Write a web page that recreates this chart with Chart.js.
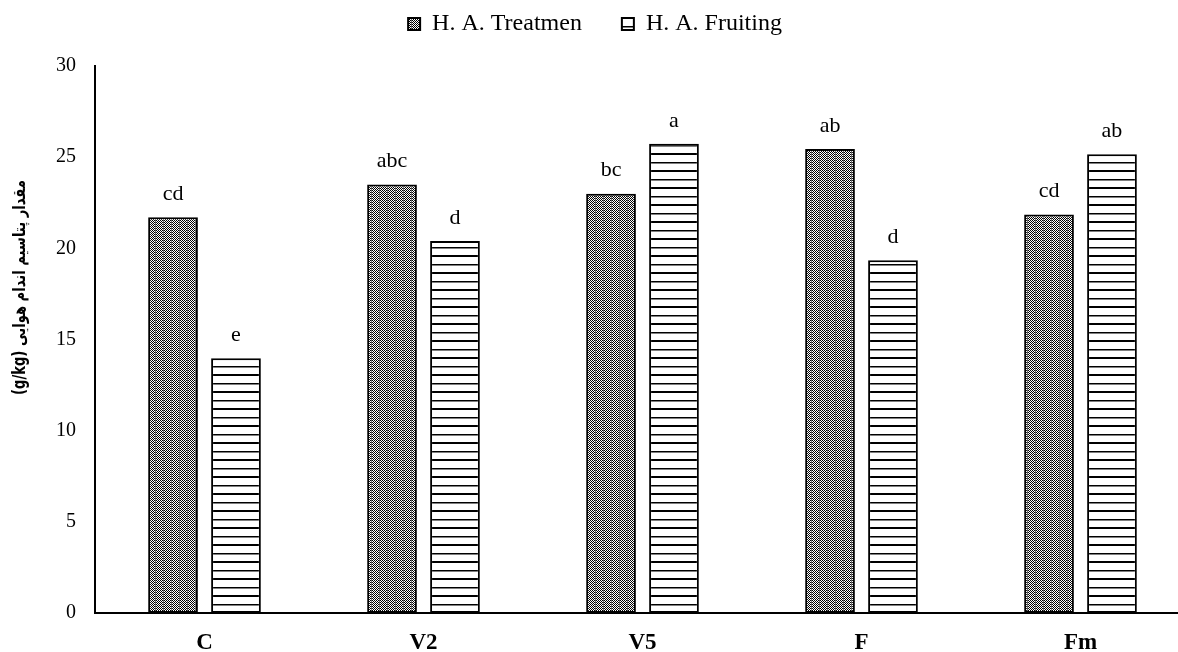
<!DOCTYPE html>
<html>
<head>
<meta charset="utf-8">
<script src="https://cdn.jsdelivr.net/npm/chart.js@4.4.1/dist/chart.umd.min.js"></script>
<style>
  html, body { margin: 0; padding: 0; background: #fff; overflow: hidden; }
  #wrap { width: 1200px; height: 652px; }
</style>
</head>
<body>
<div id="wrap"><canvas id="potChart" width="1200" height="652"></canvas></div>
<script>
const categories = ["C", "V2", "V5", "F", "Fm"];
const treatmenValues = [21.7, 23.5, 23.0, 25.45, 21.85];
const fruitingValues = [13.97, 20.4, 25.73, 19.35, 25.16];
const treatmenLetters = ["cd", "abc", "bc", "ab", "cd"];
const fruitingLetters = ["e", "d", "a", "d", "ab"];
const yTicks = [0, 5, 10, 15, 20, 25, 30];
const yTitle = "مقدار پتاسیم اندام هوایی (g/kg)";

const serif = "'Liberation Serif', 'Times New Roman', serif";

// fine black/white checker with faint grey columns
function checkerPattern() {
    const c = document.createElement("canvas");
    c.width = 8; c.height = 2;
    const g = c.getContext("2d");
    g.fillStyle = "#fff";
    g.fillRect(0, 0, 8, 2);
    g.fillStyle = "#000";
    for (let x = 0; x < 8; x++) {
        for (let y = 0; y < 2; y++) {
            if ((x + y) % 2 === 0) g.fillRect(x, y, 1, 1);
        }
    }
    g.fillStyle = "#666";
    g.fillRect(3, 0, 1, 2);
    return g.createPattern(c, "repeat");
}

// white with horizontal black lines
function stripePattern() {
    const c = document.createElement("canvas");
    c.width = 4; c.height = 17;
    const g = c.getContext("2d");
    g.fillStyle = "#fff";
    g.fillRect(0, 0, 4, 17);
    g.fillStyle = "#000";
    g.fillRect(0, 0, 4, 2);
    g.fillRect(0, 9, 4, 1.5);
    return g.createPattern(c, "repeat");
}

const letterPlugin = {
    id: "letters",
    afterDatasetsDraw(chart) {
        const ctx = chart.ctx;
        const sets = [treatmenLetters, fruitingLetters];
        ctx.save();
        ctx.font = "22px " + serif;
        ctx.fillStyle = "#000";
        ctx.textAlign = "center";
        ctx.textBaseline = "middle";
        sets.forEach((letters, di) => {
            chart.getDatasetMeta(di).data.forEach((bar, i) => {
                ctx.fillText(letters[i], bar.x, bar.y - 23);
            });
        });
        ctx.restore();
    }
};

// fixed legend height, and the Persian axis title drawn right-to-left
const layoutPlugin = {
    id: "layoutFix",
    beforeLayout(chart) {
        const lg = chart.legend;
        if (lg && !lg._patched) {
            const fit = lg.fit;
            lg.fit = function () { fit.call(this); this.height = 94; };
            lg._patched = true;
        }
    },
    afterDraw(chart) {
        const ctx = chart.ctx;
        const area = chart.chartArea;
        ctx.save();
        ctx.direction = "rtl";
        ctx.font = "bold 17px 'DejaVu Sans', sans-serif";
        ctx.fillStyle = "#000";
        ctx.textAlign = "center";
        ctx.textBaseline = "middle";
        const w = ctx.measureText(yTitle).width;
        ctx.translate(21, area.top + (area.bottom - area.top) * 0.405);
        ctx.rotate(-Math.PI / 2);
        ctx.scale(215 / w, 1);
        ctx.fillText(yTitle, 0, 0);
        ctx.restore();
    }
};

new Chart(document.getElementById("potChart"), {
    type: "bar",
    data: {
        labels: categories,
        datasets: [{
            label: "H. A. Treatmen",
            data: treatmenValues,
            backgroundColor: checkerPattern(),
            borderColor: "#000",
            borderWidth: 2,
            borderSkipped: false,
            categoryPercentage: 0.575,
            barPercentage: 0.79
        }, {
            label: "H. A. Fruiting",
            data: fruitingValues,
            backgroundColor: stripePattern(),
            borderColor: "#000",
            borderWidth: 2,
            borderSkipped: false,
            categoryPercentage: 0.575,
            barPercentage: 0.79
        }]
    },
    options: {
        responsive: false,
        animation: false,
        devicePixelRatio: 1,
        layout: { padding: { top: -28, right: 10, bottom: 0, left: 0 } },
        plugins: {
            legend: {
                position: "top",
                labels: {
                    font: { family: serif, size: 24 },
                    color: "#000",
                    boxWidth: 12,
                    boxHeight: 12,
                    padding: 40
                }
            },
            tooltip: { enabled: false }
        },
        scales: {
            x: {
                grid: { display: false, drawTicks: false },
                border: { color: "#000", width: 2 },
                ticks: {
                    font: { family: serif, size: 23, weight: "bold" },
                    color: "#000",
                    padding: 16
                },
                afterFit(scale) { scale.height = 39; }
            },
            y: {
                min: 0,
                max: 30,
                grid: { display: false, drawTicks: false },
                border: { color: "#000", width: 2 },
                afterBuildTicks(scale) { scale.ticks = yTicks.map(v => ({ value: v })); },
                ticks: {
                    font: { family: serif, size: 20 },
                    color: "#000",
                    padding: 19
                },
                afterFit(scale) { scale.width = 95; }
            }
        }
    },
    plugins: [letterPlugin, layoutPlugin]
});
</script>
</body>
</html>
